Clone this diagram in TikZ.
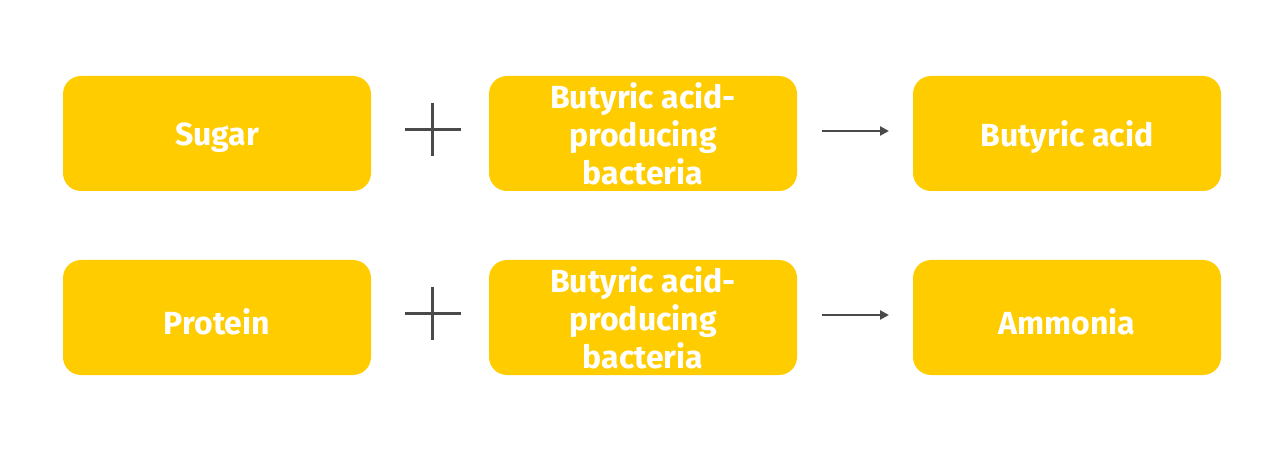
\documentclass[tikz,border=0pt]{standalone}
\usepackage{fontspec}
\setmainfont{Fira Sans}[BoldFont={* Bold}]
\usetikzlibrary{arrows.meta}
\definecolor{boxy}{HTML}{FFCC00}
\definecolor{linegray}{HTML}{4A4A4A}
\newcommand{\lowtext}[1]{\raisebox{-4pt}[\height][\depth]{#1}}
\tikzset{
  ybox/.style={fill=boxy, draw=none, rounded corners=18pt, minimum width=308pt, minimum height=115pt,
    text=white, font=\fontsize{32pt}{38pt}\selectfont\bfseries, align=center, inner sep=0pt},
  plusline/.style={draw=linegray, line width=3pt},
  arr/.style={draw=linegray, line width=2.6pt, -{Triangle[length=9pt,width=9pt]}}
}
\begin{document}
\begin{tikzpicture}[x=1pt,y=-1pt]
\useasboundingbox (0,0) rectangle (1280,454);
% row 1
\node[ybox] (sugar) at (217,133.5) {\lowtext{Sugar}};
\node[ybox] (bac1) at (643,133.5) {Butyric acid-\\producing\\bacteria};
\node[ybox] (butyric) at (1067,133.5) {\lowtext{Butyric acid}};
\coordinate (p1l) at (405,130);
\coordinate (p1r) at (461,130);
\coordinate (p1t) at (432,103);
\coordinate (p1b) at (432,156);
\draw[plusline] (p1l) -- (p1r);
\draw[plusline] (p1t) -- (p1b);
\coordinate (a1s) at (822,131);
\coordinate (a1e) at (889,131);
\draw[arr] (a1s) -- (a1e);
% row 2
\node[ybox] (protein) at (217,317.5) {\lowtext{Protein}};
\node[ybox] (bac2) at (643,317.5) {Butyric acid-\\producing\\bacteria};
\node[ybox] (ammonia) at (1067,317.5) {\lowtext{Ammonia}};
\coordinate (p2l) at (405,314);
\coordinate (p2r) at (461,314);
\coordinate (p2t) at (432,287);
\coordinate (p2b) at (432,340);
\draw[plusline] (p2l) -- (p2r);
\draw[plusline] (p2t) -- (p2b);
\coordinate (a2s) at (822,315);
\coordinate (a2e) at (889,315);
\draw[arr] (a2s) -- (a2e);
\end{tikzpicture}
\end{document}
